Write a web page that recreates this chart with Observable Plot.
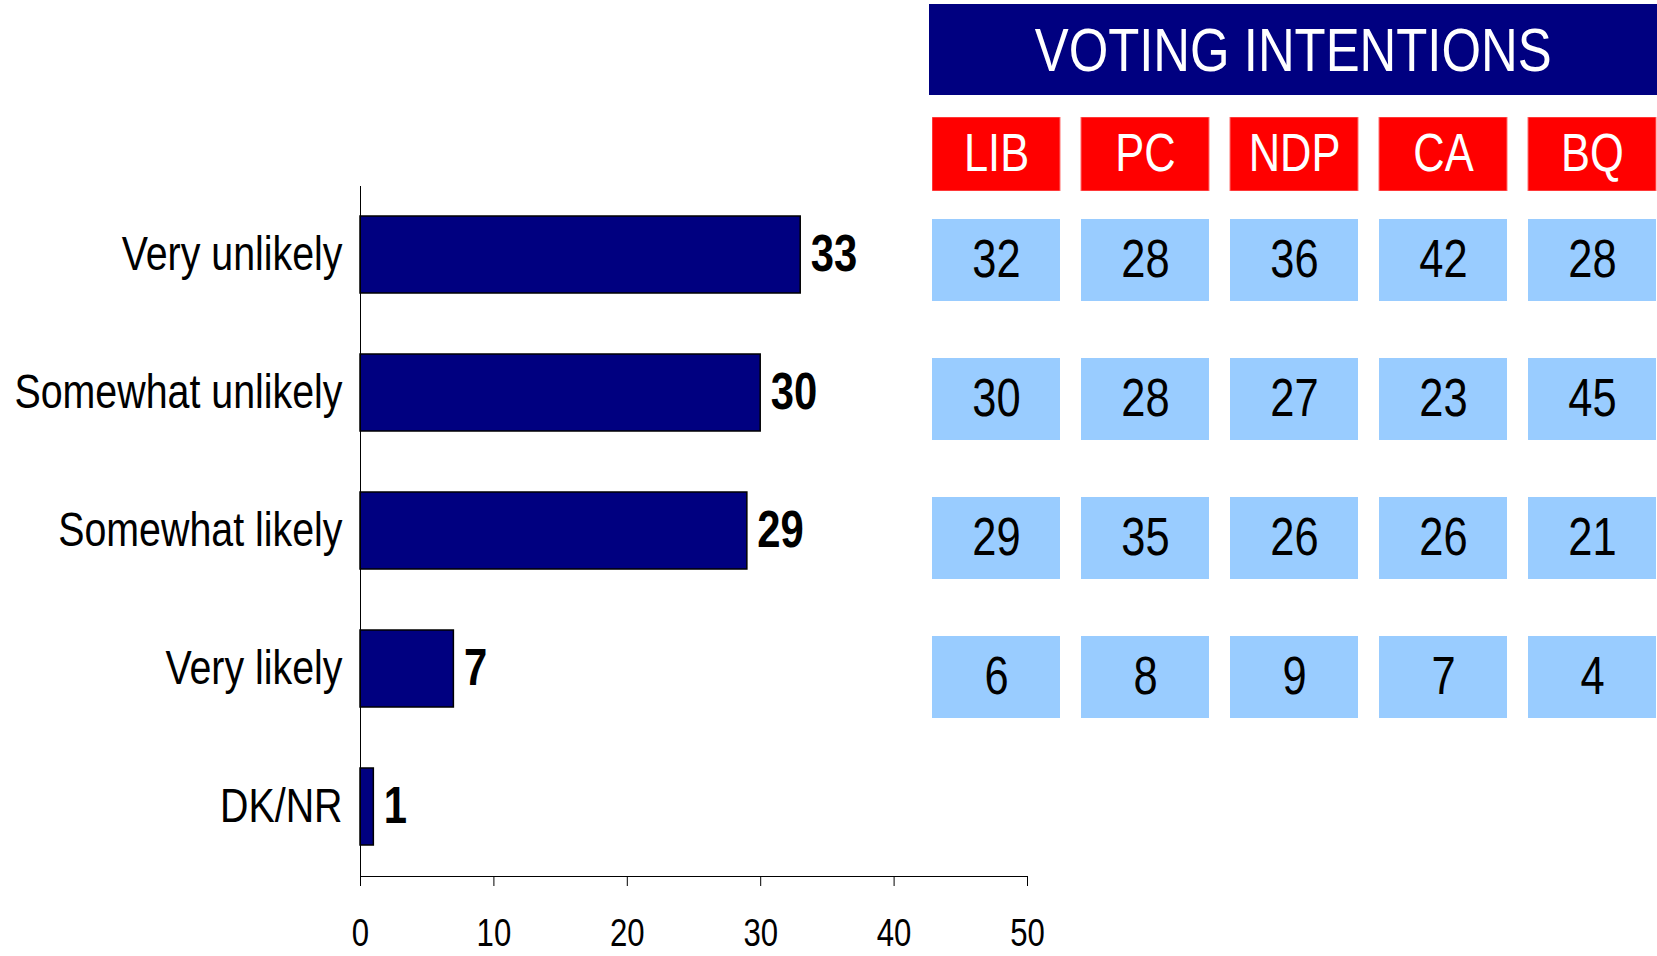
<!DOCTYPE html>
<html>
<head>
<meta charset="utf-8">
<script src="https://cdn.jsdelivr.net/npm/d3@7"></script>
<script src="https://cdn.jsdelivr.net/npm/@observablehq/plot@0.6"></script>
<style>
  html, body { margin: 0; padding: 0; background: white; overflow: hidden; }
  #root { position: relative; width: 1657px; height: 956px; }
  #root > * { position: absolute; }
  .title { left: 929px; top: 4px; width: 728px; height: 91px; background: #000080; color: white;
    display: flex; align-items: center; justify-content: center; font-size: 62px; }
  .title span { display: inline-block; transform: scaleX(0.82); transform-origin: center; white-space: nowrap; }
</style>
</head>
<body>
<div id="root"></div>
<script>
const FONT = '"Liberation Sans", Arial, sans-serif';
const NARROW = 0.82;

// Data
const categories = ["Very unlikely", "Somewhat unlikely", "Somewhat likely", "Very likely", "DK/NR"];
const overall = [33, 30, 29, 7, 1];
const parties = ["LIB", "PC", "NDP", "CA", "BQ"];
const veryUnlikely = [32, 28, 36, 42, 28];
const somewhatUnlikely = [30, 28, 27, 23, 45];
const somewhatLikely = [29, 35, 26, 26, 21];
const veryLikely = [6, 8, 9, 7, 4];
const xTicks = [0, 10, 20, 30, 40, 50];
const titleText = "VOTING INTENTIONS";

const barData = categories.map((c, i) => ({category: c, value: overall[i]}));
const partyRows = [veryUnlikely, somewhatUnlikely, somewhatLikely, veryLikely];
const tableData = partyRows.flatMap((row, r) =>
  row.map((v, j) => ({category: categories[r], party: parties[j], value: v})));

// condense text horizontally (no narrow font is installed)
function narrow(svg) {
  svg.querySelectorAll("text").forEach(t => {
    const tr = t.getAttribute("transform");
    if (tr) t.setAttribute("transform", tr + ` scale(${NARROW},1)`);
  });
  return svg;
}

const root = document.getElementById("root");

// Bar chart
const chart = narrow(Plot.plot({
  width: 1100,
  height: 956,
  marginLeft: 360,
  marginRight: 73,
  marginTop: 186,
  marginBottom: 80,
  style: {fontFamily: FONT, background: "transparent", color: "black"},
  x: {domain: [0, 50]},
  y: {domain: categories, paddingInner: 0.44, paddingOuter: 0.22},
  marks: [
    Plot.barX(barData, {x: "value", y: "category", fill: "#000080", stroke: "black", strokeWidth: 1.5}),
    Plot.text(barData, {x: "value", y: "category", text: d => String(d.value), textAnchor: "start",
      dx: 10, fontSize: 51, fontWeight: "bold", fill: "black"}),
    Plot.axisY({tickSize: 0, tickPadding: 18, fontSize: 48, label: null}),
    Plot.axisX({ticks: xTicks, tickSize: 10, tickPadding: 33, fontSize: 38, label: null, tickFormat: d => String(d)}),
    Plot.frame({anchor: "left", stroke: "black"}),
    Plot.frame({anchor: "bottom", stroke: "black"})
  ]
}));
chart.style.left = "0px";
chart.style.top = "0px";
root.appendChild(chart);

// Title
const title = document.createElement("div");
title.className = "title";
title.style.fontFamily = FONT;
const span = document.createElement("span");
span.textContent = titleText;
title.appendChild(span);
root.appendChild(title);

// Party header row
const header = narrow(Plot.plot({
  width: 725,
  height: 74,
  margin: 0,
  style: {fontFamily: FONT, background: "transparent"},
  x: {domain: parties, paddingInner: 0.14, paddingOuter: 0, axis: null},
  y: {domain: ["party"], padding: 0, axis: null},
  marks: [
    Plot.cell(parties, {x: d => d, y: () => "party", fill: "#ff0000", stroke: "#ff7070", strokeWidth: 1}),
    Plot.text(parties, {x: d => d, y: () => "party", text: d => d, fill: "white", fontSize: 53})
  ]
}));
header.style.left = "932px";
header.style.top = "117px";
root.appendChild(header);

// Table body
const table = narrow(Plot.plot({
  width: 725,
  height: 502,
  margin: 0,
  style: {fontFamily: FONT, background: "transparent"},
  x: {domain: parties, paddingInner: 0.14, paddingOuter: 0, axis: null},
  y: {domain: categories.slice(0, 4), paddingInner: 0.41, paddingOuter: 0, axis: null},
  marks: [
    Plot.cell(tableData, {x: "party", y: "category", fill: "#99ccff"}),
    Plot.text(tableData, {x: "party", y: "category", text: d => String(d.value), fill: "black", fontSize: 53})
  ]
}));
table.style.left = "932px";
table.style.top = "218px";
root.appendChild(table);
</script>
</body>
</html>
